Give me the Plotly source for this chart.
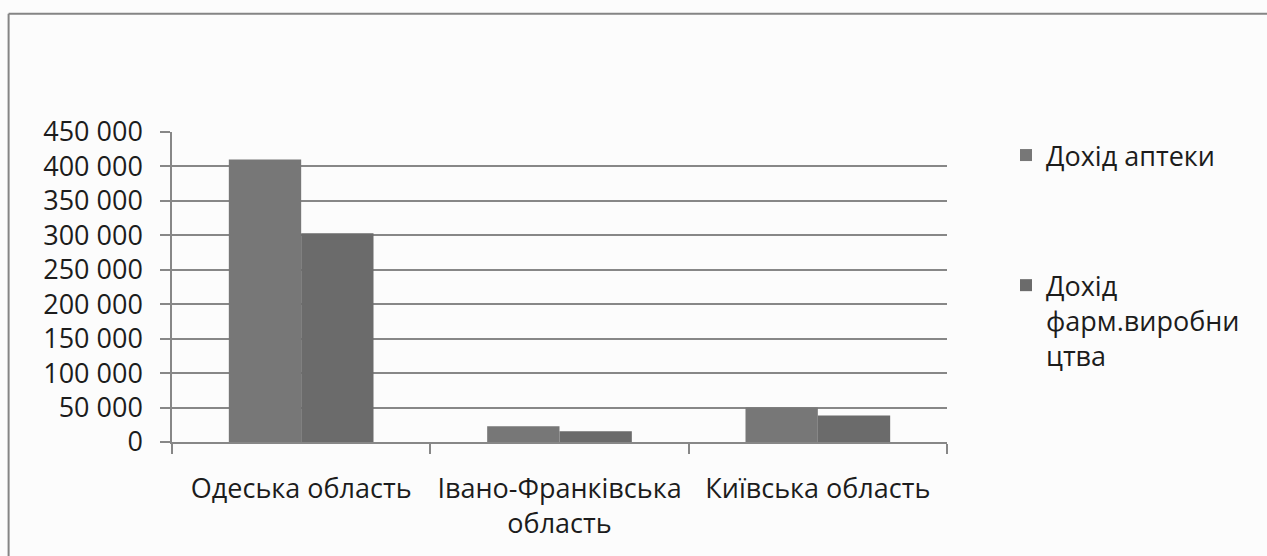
import plotly.graph_objects as go

# Regional income figures (UAH)
regions = ["Одеська область", "Івано-Франківська<br>область", "Київська область"]
pharmacy_income = [410000, 23000, 50000]
manufacturing_income = [303000, 15500, 38500]
series_names = ["Дохід аптеки", "Дохід<br>фарм.виробни<br>цтва"]
y_ticks = [0, 50000, 100000, 150000, 200000, 250000, 300000, 350000, 400000, 450000]
y_tick_labels = ["0", "50 000", "100 000", "150 000", "200 000", "250 000",
                 "300 000", "350 000", "400 000", "450 000"]

W, H = 1267, 556
L, R, T, B = 172, 319.5, 131.7, 114.3
FONT = "Open Sans"
FS = 27
TXT = "#1c1c1c"
GRID = "#878787"

fig = go.Figure()
fig.add_trace(go.Bar(x=regions, y=pharmacy_income, name=series_names[0],
                     marker=dict(color="#777777", line=dict(width=0)),
                     legendgroup="a"))
fig.add_trace(go.Bar(x=regions, y=manufacturing_income, name=series_names[1],
                     marker=dict(color="#6b6b6b", line=dict(width=0)),
                     legendgroup="b"))

pw = W - L - R
ph = H - T - B
def px_x(p):
    return (p - L) / pw
def px_y(p):
    return (H - B - p) / ph

# Outer chart frame (top and left edges)
fig.add_shape(type="line", xref="paper", yref="paper",
              x0=px_x(8.5), x1=px_x(1275), y0=px_y(13.5), y1=px_y(13.5),
              line=dict(color="#858585", width=2))
fig.add_shape(type="line", xref="paper", yref="paper",
              x0=px_x(8.5), x1=px_x(8.5), y0=px_y(13.5), y1=px_y(570),
              line=dict(color="#858585", width=2))

fig.update_layout(
    width=W, height=H,
    margin=dict(l=L, r=R, t=T, b=B, pad=0),
    paper_bgcolor="#fcfcfc", plot_bgcolor="#fcfcfc",
    barmode="group", bargap=0.44, bargroupgap=0,
    font=dict(family=FONT, size=FS, color=TXT),
    showlegend=True,
    legend=dict(xref="container", yref="container", x=1006 / W, y=1 - 131 / H,
                xanchor="left", yanchor="top", tracegroupgap=92,
                bgcolor="rgba(0,0,0,0)", font=dict(family=FONT, size=FS, color=TXT),
                itemwidth=30, traceorder="grouped", valign="top"),
    xaxis=dict(showgrid=False, showline=True, linecolor=GRID, linewidth=1.5,
               ticks="outside", ticklen=10, tickcolor=GRID, tickwidth=1.5,
               tickson="boundaries", tickfont=dict(family=FONT, size=FS, color=TXT),
               ticklabelstandoff=22),
    yaxis=dict(range=[0, 450000], tickvals=y_ticks, ticktext=y_tick_labels,
               showgrid=True, gridcolor=GRID, gridwidth=1.5,
               showline=True, linecolor=GRID, linewidth=1.5,
               ticks="outside", ticklen=10, tickcolor=GRID, tickwidth=1.5,
               zeroline=False, tickfont=dict(family=FONT, size=FS, color=TXT),
               ticklabelstandoff=12),
)

fig.write_html("out.html")
